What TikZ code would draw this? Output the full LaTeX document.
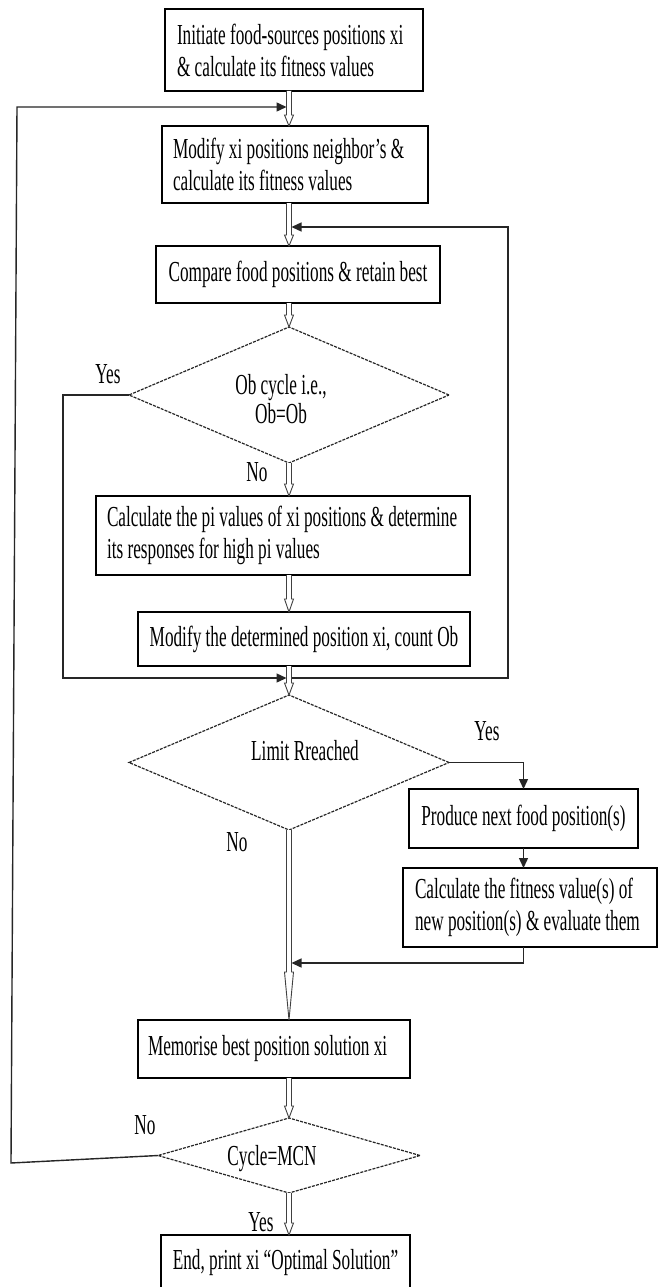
\documentclass[tikz,border=0pt]{standalone}
\usepackage{fontspec}
\setmainfont{Liberation Serif}[FakeStretch=0.594]
\usetikzlibrary{shapes.geometric,arrows.meta,calc}
\newcommand\harrow[3]{%
  \draw[hollow] ($(#1)+(-2.5,0)$) -- ($(#2)+(-2.5,-#3)$) -- ($(#2)+(-4.5,-#3)$) -- (#2) -- ($(#2)+(4.5,-#3)$) -- ($(#2)+(2.5,-#3)$) -- ($(#1)+(2.5,0)$);}
\tikzset{
 txt/.style={font=\fontsize{29}{32}\selectfont, text=black},
 box/.style={txt, draw=black, line width=1.5pt, rectangle, inner sep=0pt, outer sep=0pt},
 lbox/.style={box, align=flush left},
 cbox/.style={box},
 dia/.style={draw=black!85, line width=1.2pt, dash pattern=on 3pt off 1.2pt, diamond, inner sep=0pt, outer sep=0pt},
 conn/.style={draw=black!85, line width=1.4pt},
 tip/.style={-{Triangle[length=10pt,width=9pt]}},
 hollow/.style={draw=black!75, line width=0.9pt, fill=white},
 lbl/.style={txt, inner sep=0pt, outer sep=0pt},
}
\begin{document}
\begin{tikzpicture}[x=1pt,y=-1pt]
\useasboundingbox[fill=white] (0,0) rectangle (660,1287);
\coordinate (axis) at (289,0);

% boxes
\node[lbox, minimum width=258pt, minimum height=82pt, text width=234pt] (b1) at (294,50)
  {\mbox{Initiate food-sources positions xi}\\\mbox{\& calculate its fitness values}};
\node[lbox, minimum width=266pt, minimum height=77pt, text width=244pt] (b2) at (295,164.5)
  {\mbox{Modify xi positions neighbor’s \&}\\\mbox{calculate its fitness values}};
\node[cbox, minimum width=284pt, minimum height=57pt] (b3) at (298,274.5)
  {Compare food positions \& retain best};
\node[dia, minimum width=320pt, minimum height=136pt] (d1) at (289,395) {};
\node[lbox, minimum width=374pt, minimum height=79pt, text width=352pt] (b4) at (283,535.5)
  {\mbox{Calculate the pi values of xi positions \& determine}\\\mbox{its responses for high pi values}};
\node[cbox, minimum width=332pt, minimum height=54pt] (b5) at (304,639)
  {Modify the determined position xi, count Ob};
\node[dia, minimum width=320pt, minimum height=135pt] (d2) at (289,762.5) {};
\node[cbox, minimum width=229pt, minimum height=59pt] (b6) at (523.5,818.5)
  {Produce next food position(s)};
\node[lbox, minimum width=254pt, minimum height=79pt, text width=230pt] (b7) at (530,907.5)
  {\mbox{Calculate the fitness value(s) of}\\\mbox{new position(s) \& evaluate them}};
\node[lbox, minimum width=272pt, minimum height=58pt, text width=252pt] (b8) at (274,1049)
  {\mbox{Memorise best position solution xi}};
\node[dia, minimum width=262pt, minimum height=75pt] (d3) at (289,1155.5) {};
\node[cbox, minimum width=249pt, minimum height=55pt] (b9) at (285.5,1262.5)
  {End, print xi “Optimal Solution”};

% texts inside diamonds
\node[lbl, align=center, font=\fontsize{29}{29}\selectfont] (t1) at (281,399.5) {Ob cycle i.e.,\\Ob=Ob};
\node[lbl] (t2) at (305,751) {Limit Rreached};
\node[lbl] (t3) at (272,1159) {Cycle=MCN};

% branch labels
\node[lbl] (y1) at (108,374) {Yes};
\node[lbl] (n1) at (257,472) {No};
\node[lbl] (y2) at (487,731) {Yes};
\node[lbl] (n2) at (237,842) {No};
\node[lbl] (n3) at (145,1125) {No};
\node[lbl] (y3) at (261,1222) {Yes};

% helper coordinates
\coordinate (lx) at (63,678);
\coordinate (m1) at (286.5,678);
\coordinate (m2) at (289,678);
\coordinate (rx) at (508,678);
\coordinate (r1) at (291.5,227);
\coordinate (ret) at (291.5,963);
\coordinate (c3) at (11,1163);
\coordinate (c4) at (17,107);
\coordinate (c5) at (286.5,107);

% black connectors
\draw[conn,tip] (d1.west) -| (lx) -- (m1);
\draw[conn,tip] (m2) -- (rx) |- (r1);
\draw[conn,tip] (d2.east) -| (b6.north);
\draw[conn,tip] (b6.south) -- (b6.south |- b7.north);
\draw[conn,tip] (b6.south |- b7.south) |- (ret);
\draw[conn,tip] (d3.west) -- (c3) -- (c4) -- (c5);

% main stem hollow arrows
\coordinate (s1) at (b1.south -| axis); \coordinate (e1) at (b2.north -| axis);
\coordinate (s2) at (b2.south -| axis); \coordinate (e2) at (b3.north -| axis);
\coordinate (s3) at (b3.south -| axis); \coordinate (e3) at (d1.north);
\coordinate (s4) at (d1.south);         \coordinate (e4) at (b4.north -| axis);
\coordinate (s5) at (b4.south -| axis); \coordinate (e5) at (b5.north -| axis);
\coordinate (s6) at (b5.south -| axis); \coordinate (e6) at (d2.north);
\coordinate (s7) at (d2.south);         \coordinate (e7) at (b8.north -| axis);
\coordinate (s8) at (b8.south -| axis); \coordinate (e8) at (d3.north);
\coordinate (s9) at (d3.south);         \coordinate (e9) at (b9.north -| axis);
\harrow{s1}{e1}{11}
\harrow{s2}{e2}{11}
\harrow{s3}{e3}{12}
\harrow{s4}{e4}{12}
\harrow{s5}{e5}{13}
\harrow{s6}{e6}{12}
\harrow{s7}{e7}{48}
\harrow{s8}{e8}{12}
\harrow{s9}{e9}{12}
\end{tikzpicture}
\end{document}
